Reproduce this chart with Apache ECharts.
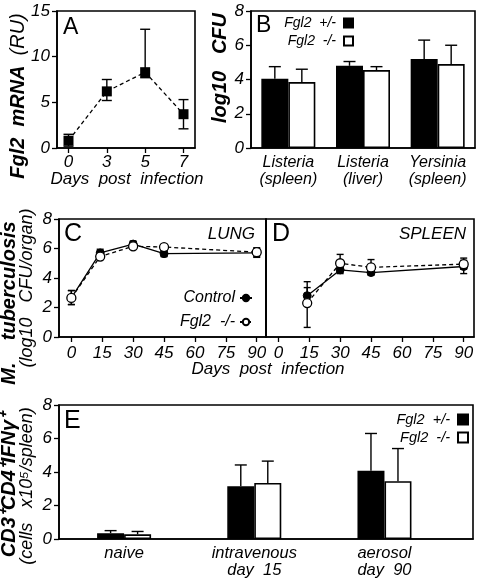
<!DOCTYPE html>
<html><head><meta charset="utf-8">
<script src="https://cdn.jsdelivr.net/npm/echarts@6/dist/echarts.min.js"></script>
<style>html,body{margin:0;padding:0;background:#fff}#c{width:477px;height:579px}</style>
</head><body><div id="c"></div>
<script>
// ---- Panel A: Fgl2 mRNA ----
const aDayLabels = ['0', '3', '5', '7'];
const aMean = [0.8, 6.2, 8.3, 3.7];
const aLow = [0.2, 5.2, 7.7, 2.1];
const aHigh = [1.5, 7.5, 13.0, 5.3];
const aTicks = [0, 5, 10, 15];
// ---- Panel B: log10 CFU ----
const bCats = ['Listeria\n(spleen)', 'Listeria\n(liver)', 'Yersinia\n(spleen)'];
const bHet = [4.05, 4.8, 5.2];
const bHetHigh = [4.75, 5.05, 6.3];
const bKo = [3.85, 4.55, 4.9];
const bKoHigh = [4.6, 4.75, 6.0];
// ---- Panel C: lung ----
const cDays = [0, 14, 30, 45, 90];
const cCtrl = [2.65, 5.7, 6.3, 5.65, 5.7];
const cCtrlLow = [2.2, 5.45, 6.05, 5.45, 5.4];
const cCtrlHigh = [3.15, 5.95, 6.5, 5.85, 6.0];
const cKo = [2.65, 5.45, 6.15, 6.1, 5.75];
const cKoLow = [2.2, 5.25, 5.95, 5.9, 5.45];
const cKoHigh = [3.15, 5.7, 6.35, 6.25, 6.05];
// ---- Panel D: spleen ----
const dDays = [14, 30, 45, 90];
const dCtrl = [2.8, 4.55, 4.37, 4.78];
const dCtrlLow = [2.25, 4.3, 4.2, 4.3];
const dCtrlHigh = [3.35, 4.8, 4.55, 5.2];
const dKo = [2.3, 5.0, 4.72, 4.94];
const dKoLow = [0.65, 4.7, 4.45, 4.6];
const dKoHigh = [3.75, 5.6, 5.25, 5.35];
const cdTicks = [0, 15, 30, 45, 60, 75, 90];
// ---- Panel E: CD3+CD4+IFNg+ cells ----
const eCats = ['naive', 'intravenous\nday  15', 'aerosol\nday  90'];
const eHet = [0.35, 3.15, 4.07];
const eHetHigh = [0.5, 4.42, 6.3];
const eKo = [0.28, 3.35, 3.45];
const eKoHigh = [0.45, 4.65, 5.4];

const FONT = 'Liberation Sans, Arial, Helvetica, sans-serif';
const axisLineStyle = {color: '#000', width: 1.6};
function yAxisCfg(gi, max, interval, showLabels) {
  return {
    type: 'value', gridIndex: gi, min: 0, max: max, interval: interval,
    axisLine: {show: true, onZero: false, lineStyle: axisLineStyle},
    axisTick: {show: showLabels, length: 5, lineStyle: {color: '#000', width: 1.3}},
    axisLabel: {show: showLabels, color: '#000', fontStyle: 'italic', fontSize: 17, fontFamily: FONT, margin: 7},
    splitLine: {show: false}
  };
}
function errRender(offset, capHalf, lowerCap) {
  return function (params, api) {
    const x = api.value(0), lo = api.value(1), hi = api.value(2);
    const p1 = api.coord([x, lo]), p2 = api.coord([x, hi]);
    const cx = p1[0] + offset;
    const st = {stroke: '#000', lineWidth: 1.4};
    const ch = [
      {type: 'line', shape: {x1: cx, y1: p1[1], x2: cx, y2: p2[1]}, style: st},
      {type: 'line', shape: {x1: cx - capHalf, y1: p2[1], x2: cx + capHalf, y2: p2[1]}, style: st}
    ];
    if (lowerCap) ch.push({type: 'line', shape: {x1: cx - capHalf, y1: p1[1], x2: cx + capHalf, y2: p1[1]}, style: st});
    return {type: 'group', children: ch};
  };
}
function errSeries(xi, yi, xs, lo, hi, offset, capHalf, lowerCap) {
  return {
    type: 'custom', xAxisIndex: xi, yAxisIndex: yi, z: 1,
    renderItem: errRender(offset, capHalf, lowerCap),
    data: xs.map((x, i) => [x, lo[i], hi[i]]), silent: true
  };
}
const nameMap = {het: 'Fgl2  +/-', ko: 'Fgl2  -/-', ctrlL: 'Control', koL: 'Fgl2  -/-'};
const xLabelBase = {color: '#000', fontStyle: 'italic', fontFamily: FONT};

const option = {
  animation: false,
  backgroundColor: '#fff',
  textStyle: {fontFamily: FONT},
  grid: [
    {left: 57, top: 11, width: 138, height: 137, show: true, borderColor: '#000', borderWidth: 1.6},
    {left: 251, top: 11, width: 224, height: 137, show: true, borderColor: '#000', borderWidth: 1.6},
    {left: 59, top: 219, width: 207, height: 118, show: true, borderColor: '#000', borderWidth: 1.6},
    {left: 266, top: 219, width: 208, height: 118, show: true, borderColor: '#000', borderWidth: 1.6},
    {left: 59, top: 405, width: 414, height: 138, show: true, borderColor: '#000', borderWidth: 1.6}
  ],
  xAxis: [
    {type: 'value', gridIndex: 0, min: -0.3, max: 3.3,
      axisLine: {show: true, onZero: false, lineStyle: axisLineStyle},
      axisTick: {show: true, customValues: [0, 1, 2, 3], length: 5, lineStyle: {color: '#000', width: 1.3}},
      axisLabel: Object.assign({show: true, customValues: [0, 1, 2, 3], formatter: v => aDayLabels[Math.round(v)], fontSize: 17, margin: 6}, xLabelBase),
      splitLine: {show: false}},
    {type: 'category', gridIndex: 1, data: bCats,
      axisLine: {show: true, onZero: false, lineStyle: axisLineStyle}, axisTick: {show: false},
      axisLabel: Object.assign({interval: 0, hideOverlap: false, fontSize: 16, lineHeight: 17, margin: 6}, xLabelBase)},
    {type: 'value', gridIndex: 2, min: -6, max: 94.5,
      axisLine: {show: true, onZero: false, lineStyle: axisLineStyle},
      axisTick: {show: true, customValues: cdTicks, length: 5, lineStyle: {color: '#000', width: 1.3}},
      axisLabel: Object.assign({show: true, customValues: cdTicks, fontSize: 17, margin: 8}, xLabelBase),
      splitLine: {show: false}},
    {type: 'value', gridIndex: 3, min: -6, max: 95,
      axisLine: {show: true, onZero: false, lineStyle: axisLineStyle},
      axisTick: {show: true, customValues: cdTicks, length: 5, lineStyle: {color: '#000', width: 1.3}},
      axisLabel: Object.assign({show: true, customValues: cdTicks, fontSize: 17, margin: 8}, xLabelBase),
      splitLine: {show: false}},
    {type: 'value', gridIndex: 4, min: -0.5, max: 2.68,
      axisLine: {show: true, onZero: false, lineStyle: axisLineStyle},
      axisTick: {show: false},
      axisLabel: Object.assign({show: true, customValues: [0, 1, 2], formatter: v => eCats[Math.round(v)], fontSize: 16.5, lineHeight: 17, margin: 6}, xLabelBase),
      splitLine: {show: false}}
  ],
  yAxis: [
    yAxisCfg(0, 15, 5, true),
    yAxisCfg(1, 8, 2, true),
    yAxisCfg(2, 8, 2, true),
    yAxisCfg(3, 8, 2, false),
    yAxisCfg(4, 8, 2, true)
  ],
  legend: [
    {orient: 'vertical', right: 123, top: 16, padding: 0, align: 'right', icon: 'rect', itemWidth: 9, itemHeight: 9, itemGap: 4,
      data: ['het', 'ko'], formatter: n => nameMap[n],
      textStyle: {fontStyle: 'italic', fontSize: 14, lineHeight: 12, color: '#000', fontFamily: FONT, padding: [0, 3, 0, 0]}},
    {orient: 'vertical', right: 224, top: 290, padding: 0, align: 'right', itemWidth: 12, itemHeight: 8, itemGap: 8,
      data: ['ctrlL', 'koL'], formatter: n => nameMap[n],
      textStyle: {fontStyle: 'italic', fontSize: 16, lineHeight: 14, color: '#000', fontFamily: FONT}},
    {orient: 'vertical', right: 8, top: 412, padding: 0, align: 'right', icon: 'rect', itemWidth: 10, itemHeight: 10, itemGap: 3,
      data: ['het', 'ko'], formatter: n => nameMap[n],
      textStyle: {fontStyle: 'italic', fontSize: 14.5, lineHeight: 12, color: '#000', fontFamily: FONT, padding: [0, 3, 0, 0]}}
  ],
  series: [
    // A
    errSeries(0, 0, [0, 1, 2, 3], aLow, aHigh, 0, 5, true),
    {type: 'line', xAxisIndex: 0, yAxisIndex: 0, z: 3, data: aMean.map((v, i) => [i, v]),
      symbol: 'rect', symbolSize: 10, itemStyle: {color: '#000'},
      lineStyle: {color: '#000', width: 1.3, type: [4, 3]}},
    // B
    {name: 'het', type: 'bar', xAxisIndex: 1, yAxisIndex: 1, data: bHet, barWidth: 27, barGap: '0%',
      itemStyle: {color: '#000', borderColor: '#000', borderWidth: 1.6}},
    {name: 'ko', type: 'bar', xAxisIndex: 1, yAxisIndex: 1, data: bKo, barWidth: 27, barGap: '0%',
      itemStyle: {color: '#fff', borderColor: '#000', borderWidth: 1.6}},
    errSeries(1, 1, [0, 1, 2], bHet, bHetHigh, -13.5, 6, false),
    errSeries(1, 1, [0, 1, 2], bKo, bKoHigh, 13.5, 6, false),
    // C
    errSeries(2, 2, cDays, cCtrlLow, cCtrlHigh, 0, 3.5, true),
    errSeries(2, 2, cDays, cKoLow, cKoHigh, 0, 3.5, true),
    {name: 'ctrlL', type: 'line', xAxisIndex: 2, yAxisIndex: 2, z: 3, data: cDays.map((d, i) => [d, cCtrl[i]]),
      symbol: 'circle', symbolSize: 8, itemStyle: {color: '#000', borderColor: '#000', borderWidth: 1},
      lineStyle: {color: '#000', width: 1.3}},
    {name: 'koL', type: 'line', xAxisIndex: 2, yAxisIndex: 2, z: 4, data: cDays.map((d, i) => [d, cKo[i]]),
      symbol: 'circle', symbolSize: 9, itemStyle: {color: '#fff', borderColor: '#000', borderWidth: 1.3},
      lineStyle: {color: '#000', width: 1.3, type: [4, 3]}},
    // D
    errSeries(3, 3, dDays, dCtrlLow, dCtrlHigh, 0, 3.5, true),
    errSeries(3, 3, dDays, dKoLow, dKoHigh, 0, 3.5, true),
    {name: 'ctrlL', type: 'line', xAxisIndex: 3, yAxisIndex: 3, z: 3, data: dDays.map((d, i) => [d, dCtrl[i]]),
      symbol: 'circle', symbolSize: 8, itemStyle: {color: '#000', borderColor: '#000', borderWidth: 1},
      lineStyle: {color: '#000', width: 1.3}},
    {name: 'koL', type: 'line', xAxisIndex: 3, yAxisIndex: 3, z: 4, data: dDays.map((d, i) => [d, dKo[i]]),
      symbol: 'circle', symbolSize: 9, itemStyle: {color: '#fff', borderColor: '#000', borderWidth: 1.3},
      lineStyle: {color: '#000', width: 1.3, type: [4, 3]}},
    // E
    {name: 'het', type: 'bar', xAxisIndex: 4, yAxisIndex: 4, data: eHet.map((v, i) => [i, v]), barWidth: 27, barGap: '0%',
      itemStyle: {color: '#000', borderColor: '#000', borderWidth: 1.6}},
    {name: 'ko', type: 'bar', xAxisIndex: 4, yAxisIndex: 4, data: eKo.map((v, i) => [i, v]), barWidth: 27, barGap: '0%',
      itemStyle: {color: '#fff', borderColor: '#000', borderWidth: 1.6}},
    errSeries(4, 4, [0, 1, 2], eHet, eHetHigh, -13.5, 6, false),
    errSeries(4, 4, [0, 1, 2], eKo, eKoHigh, 13.5, 6, false)
  ],
  graphic: [
    // panel letters
    {type: 'text', left: 63, top: 16, style: {text: 'A', font: '23px ' + FONT, fill: '#000'}},
    {type: 'text', left: 256, top: 14, style: {text: 'B', font: '23px ' + FONT, fill: '#000'}},
    {type: 'text', left: 64, top: 222, style: {text: 'C', font: '25px ' + FONT, fill: '#000'}},
    {type: 'text', left: 272, top: 222, style: {text: 'D', font: '25px ' + FONT, fill: '#000'}},
    {type: 'text', left: 64, top: 409, style: {text: 'E', font: '25px ' + FONT, fill: '#000'}},
    // panel names
    {type: 'text', right: 477 - 255, top: 226, style: {text: 'LUNG', font: 'italic 17px ' + FONT, fill: '#000'}},
    {type: 'text', right: 477 - 466, top: 226, style: {text: 'SPLEEN', font: 'italic 17px ' + FONT, fill: '#000'}},
    // x titles
    {type: 'text', x: 127, y: 179, style: {text: 'Days  post  infection', font: 'italic 17px ' + FONT, fill: '#000', align: 'center', verticalAlign: 'middle'}},
    {type: 'text', x: 268, y: 369, style: {text: 'Days  post  infection', font: 'italic 17px ' + FONT, fill: '#000', align: 'center', verticalAlign: 'middle'}},
    // y titles
    {type: 'text', x: 18, y: 96, rotation: Math.PI / 2,
      style: {text: '{b|Fgl2  mRNA}   {n|(RU)}', align: 'center', verticalAlign: 'middle', fill: '#000',
        rich: {b: {font: 'italic bold 20px ' + FONT, fill: '#000'}, n: {font: 'italic 20px ' + FONT, fill: '#000'}}}},
    {type: 'text', x: 220, y: 68, rotation: Math.PI / 2,
      style: {text: 'log10   CFU', font: 'italic bold 20px ' + FONT, fill: '#000', align: 'center', verticalAlign: 'middle'}},
    {type: 'text', x: 9, y: 303, rotation: Math.PI / 2,
      style: {text: 'M.    tuberculosis', font: 'italic bold 20px ' + FONT, fill: '#000', align: 'center', verticalAlign: 'middle'}},
    {type: 'text', x: 27, y: 288, rotation: Math.PI / 2,
      style: {text: '(log10   CFU/organ)', font: 'italic 18px ' + FONT, fill: '#000', align: 'center', verticalAlign: 'middle'}},
    {type: 'text', x: 9, y: 485, rotation: Math.PI / 2,
      style: {text: 'CD3\u207ACD4\u207AIFN\u03B3\u207A', font: 'italic bold 20px ' + FONT, fill: '#000', align: 'center', verticalAlign: 'middle'}},
    {type: 'text', x: 27, y: 486, rotation: Math.PI / 2,
      style: {text: '(cells   x10\u2075/spleen)', font: 'italic 18px ' + FONT, fill: '#000', align: 'center', verticalAlign: 'middle'}}
  ]
};
const chart = echarts.init(document.getElementById('c'), null, {renderer: 'canvas'});
chart.setOption(option);
</script>
</body></html>
